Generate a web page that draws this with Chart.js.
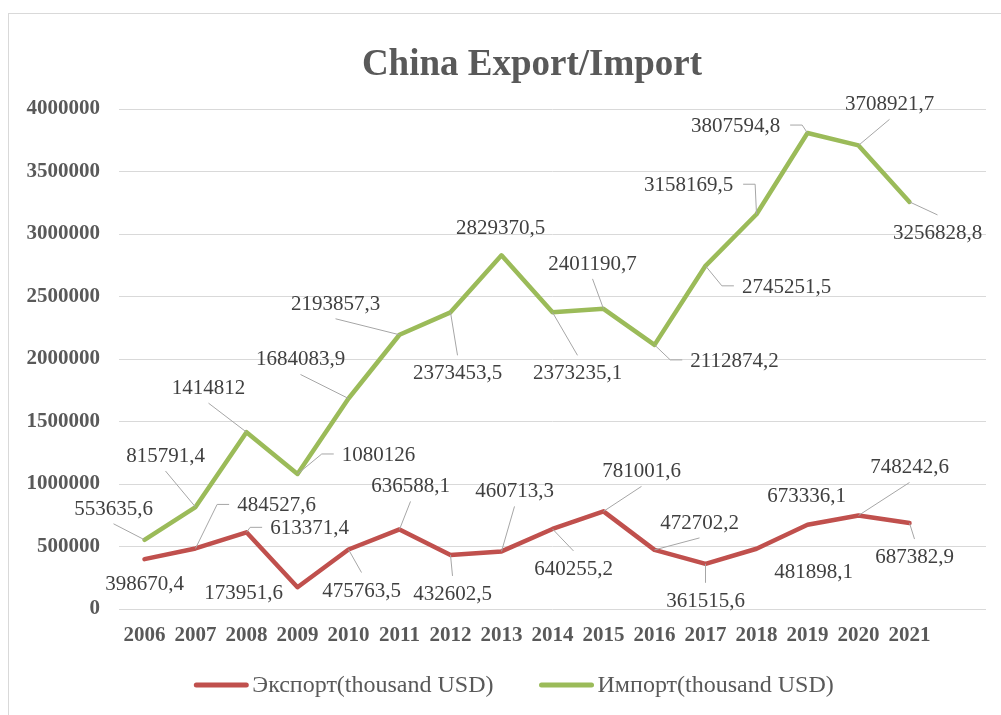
<!DOCTYPE html>
<html>
<head>
<meta charset="utf-8">
<script src="https://cdn.jsdelivr.net/npm/chart.js@4.4.1/dist/chart.umd.min.js"></script>
<style>
  html, body { margin: 0; padding: 0; background: #fff; }
  #wrap { width: 1001px; height: 715px; position: relative; }
</style>
</head>
<body>
<div id="wrap"><canvas id="chart" width="1001" height="715"></canvas></div>
<script>
// ── data ──
const years = ['2006','2007','2008','2009','2010','2011','2012','2013',
               '2014','2015','2016','2017','2018','2019','2020','2021'];
const exportVals = [398670.4, 484527.6, 613371.4, 173951.6, 475763.5, 636588.1, 432602.5, 460713.3,
                    640255.2, 781001.6, 472702.2, 361515.6, 481898.1, 673336.1, 748242.6, 687382.9];
const importVals = [553635.6, 815791.4, 1414812, 1080126, 1684083.9, 2193857.3, 2373453.5, 2829370.5,
                    2373235.1, 2401190.7, 2112874.2, 2745251.5, 3158169.5, 3807594.8, 3708921.7, 3256828.8];
const yMax  = 4000000;
const yStep = 500000;

// label placement (offset of label centre from its point, px) and leader side
const exportLabelPos = [[0,24],[81,-44],[63,-5],[-54,5],[13,40],[11,-44],[2,38],[13,-61],
                        [21,39],[38,-41],[45,-28],[0,36],[57,22],[-1,-30],[51,-49],[5,33]];
const exportLeader   = ['','l','l','','t','b','t','b','t','b','b','t','','','b','t'];
const importLabelPos = [[-31,-32],[-30,-52],[-38,-45],[81,-20],[-48,-40],[-64,-32],[7,60],[-1,-28],
                        [25,60],[-11,-46],[80,15],[81,20],[-68,-30],[-72,-8],[31,-42],[28,30]];
const importLeader   = ['b','b','b','l','b','b','t','','t','b','l','l','r','r','b','t'];

const RED   = '#C0504D';
const GREEN = '#9BBB59';
const SERIF = '"Liberation Serif", "Times New Roman", serif';

const fmt = v => String(v).replace('.', ',');

// ── plugins ──
const frame = {
  id: 'frame',
  beforeDraw(chart) {
    const ctx = chart.ctx;
    ctx.save();
    ctx.strokeStyle = '#D9D9D9';
    ctx.lineWidth = 1;
    ctx.strokeRect(8.5, 13.5, 1200, 900);
    // title
    ctx.fillStyle = '#595959';
    ctx.font = 'bold 37px ' + SERIF;
    ctx.textAlign = 'center';
    ctx.textBaseline = 'alphabetic';
    ctx.fillText('China Export/Import', 532, 75);
    ctx.restore();
  }
};

const pointLabels = {
  id: 'pointLabels',
  afterDatasetsDraw(chart) {
    const ctx = chart.ctx;
    ctx.save();
    ctx.font = '21px ' + SERIF;
    ctx.textAlign = 'center';
    ctx.textBaseline = 'alphabetic';
    chart.data.datasets.forEach((ds, di) => {
      const meta = chart.getDatasetMeta(di);
      meta.data.forEach((pt, i) => {
        const text = fmt(ds.data[i]);
        const w  = ctx.measureText(text).width;
        const lx = pt.x + ds.labelPos[i][0];
        const ly = pt.y + ds.labelPos[i][1];
        const mode = ds.leader[i];
        if (mode) {
          ctx.strokeStyle = '#A6A6A6';
          ctx.lineWidth = 1;
          ctx.beginPath();
          ctx.moveTo(pt.x, pt.y);
          if (mode === 'b') ctx.lineTo(lx, ly + 16);
          if (mode === 't') ctx.lineTo(lx, ly - 17);
          if (mode === 'l') { ctx.lineTo(lx - w / 2 - 20, ly); ctx.lineTo(lx - w / 2 - 8, ly); }
          if (mode === 'r') { ctx.lineTo(lx + w / 2 + 22, ly); ctx.lineTo(lx + w / 2 + 10, ly); }
          ctx.stroke();
        }
        ctx.fillStyle = '#404040';
        ctx.fillText(text, lx, ly + 7);
      });
    });
    ctx.restore();
  }
};

const legendDraw = {
  id: 'legendDraw',
  afterDraw(chart) {
    const ctx = chart.ctx;
    ctx.save();
    ctx.font = '24px ' + SERIF;
    ctx.textBaseline = 'middle';
    ctx.textAlign = 'left';
    const items = chart.data.datasets.map(ds => ({ label: ds.label, color: ds.borderColor, w: 50 + 6 + ctx.measureText(ds.label).width }));
    const gap = 48;
    const total = items.reduce((s, it) => s + it.w, 0) + gap * (items.length - 1);
    let x = 515 - total / 2;
    const y = 685;
    items.forEach(it => {
      ctx.strokeStyle = it.color;
      ctx.lineWidth = 5;
      ctx.lineCap = 'round';
      ctx.beginPath();
      ctx.moveTo(x, y);
      ctx.lineTo(x + 50, y);
      ctx.stroke();
      ctx.fillStyle = '#595959';
      ctx.fillText(it.label, x + 56, y + 1);
      x += it.w + gap;
    });
    ctx.restore();
  }
};

// ── chart ──
new Chart(document.getElementById('chart'), {
  type: 'line',
  data: {
    labels: [...years, ''],
    datasets: [
      { label: 'Экспорт(thousand USD)', data: exportVals, borderColor: RED, backgroundColor: RED,
        labelPos: exportLabelPos, leader: exportLeader },
      { label: 'Импорт(thousand USD)', data: importVals, borderColor: GREEN, backgroundColor: GREEN,
        labelPos: importLabelPos, leader: importLeader },
    ]
  },
  options: {
    responsive: false,
    animation: false,
    layout: { padding: { left: 26, right: 15, top: 109, bottom: 66 } },
    elements: {
      line: { borderWidth: 4.5, tension: 0, borderJoinStyle: 'round', borderCapStyle: 'round' },
      point: { radius: 0, hoverRadius: 0 }
    },
    plugins: { legend: { display: false }, title: { display: false }, tooltip: { enabled: false } },
    scales: {
      x: {
        offset: true,
        grid: { display: false, drawTicks: false },
        border: { display: false },
        ticks: { color: '#595959', font: { family: SERIF, size: 21, weight: 'bold' }, padding: 14,
                 maxRotation: 0, autoSkip: false },
        afterFit(scale) { scale.height = 40; }
      },
      y: {
        min: 0, max: yMax,
        grid: { color: '#D9D9D9', lineWidth: 1, drawTicks: false },
        border: { display: false },
        ticks: { stepSize: yStep, color: '#595959', font: { family: SERIF, size: 21, weight: 'bold' }, padding: 19,
                 callback: v => String(v) },
        afterFit(scale) { scale.width = 93; }
      }
    }
  },
  plugins: [frame, pointLabels, legendDraw]
});
</script>
</body>
</html>
